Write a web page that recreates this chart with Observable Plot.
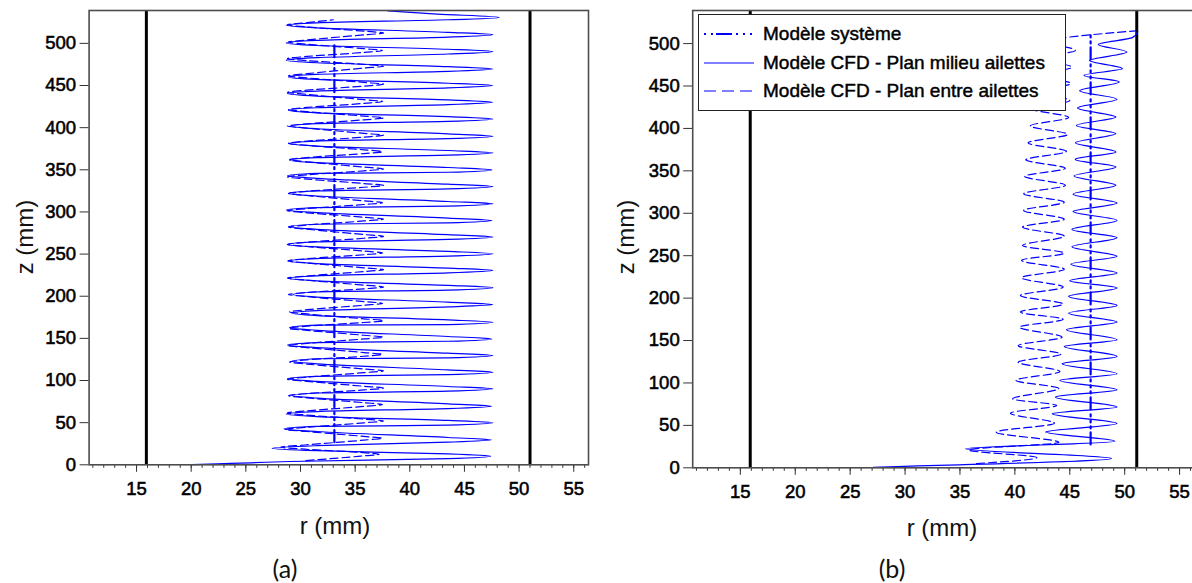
<!DOCTYPE html>
<html>
<head>
<meta charset="utf-8">
<script src="https://cdn.jsdelivr.net/npm/d3@7"></script>
<script src="https://cdn.jsdelivr.net/npm/@observablehq/plot@0.6"></script>
<style>
  html, body { margin: 0; padding: 0; background: #fff; overflow: hidden; }
  #page { position: relative; width: 1192px; height: 583px; overflow: hidden; background: #fff; }
  .panel { position: absolute; top: 0; }
  .panel svg text { stroke: #000; stroke-width: 0.55px; fill: #000; }
  .lbl { position: absolute; transform: translate(-50%, -50%); white-space: nowrap; color: #111;
         font-family: "Liberation Sans", Arial, sans-serif; font-size: 24px; line-height: 1; }
  .cap { font-family: Lato, "Open Sans", sans-serif; font-size: 25px; }
  .rot { transform: translate(-50%, -50%) rotate(-90deg); }
  #legend { position: absolute; left: 698px; top: 14px; width: 366px; height: 95px; background: #fff;
            border: 1.5px solid #222; font-family: "Liberation Sans", Arial, sans-serif; font-size: 19px; color: #000;
            -webkit-text-stroke: 0.45px #000; }
  #legend .row { position: absolute; left: 0; height: 24px; width: 100%; }
  #legend svg { position: absolute; left: 5px; top: 0; }
  #legend span { position: absolute; left: 64px; top: 1px; line-height: 22px; white-space: nowrap; }
</style>
</head>
<body>
<div id="page">
  <div id="panelA" class="panel" style="left:0px;width:596px;"></div>
  <div id="panelB" class="panel" style="left:596px;width:600px;"></div>
  <div class="lbl rot" style="left:25px;top:237px;">z (mm)</div>
  <div class="lbl rot" style="left:626px;top:237px;">z (mm)</div>
  <div class="lbl" style="left:335px;top:526px;">r (mm)</div>
  <div class="lbl" style="left:942px;top:528px;">r (mm)</div>
  <div class="lbl cap" style="left:285px;top:568px;">(a)</div>
  <div class="lbl cap" style="left:892px;top:568px;">(b)</div>
  <div id="legend">
    <div class="row" style="top:7px;">
      <svg width="52" height="24"><line x1="0" x2="50" y1="12" y2="12" stroke="#0000ff" stroke-width="2" stroke-dasharray="2,5,2,3,16,4,2,5,2,5,2"/></svg>
      <span>Modèle système</span>
    </div>
    <div class="row" style="top:36px;">
      <svg width="52" height="24"><line x1="0" x2="50" y1="12" y2="12" stroke="#0000ff" stroke-width="1.2"/></svg>
      <span>Modèle CFD - Plan milieu ailettes</span>
    </div>
    <div class="row" style="top:64px;">
      <svg width="52" height="24"><line x1="0" x2="50" y1="12" y2="12" stroke="#0000ff" stroke-width="1.2" stroke-dasharray="12,6"/></svg>
      <span>Modèle CFD - Plan entre ailettes</span>
    </div>
  </div>
</div>
<script>
// ---------- axes / scales ----------
const rDomain = [10.66, 56.35];
const zDomain = [0, 539];
const xMajorTicks = [15, 20, 25, 30, 35, 40, 45, 50, 55];
const xMinorTicks = [11, 12, 13, 14, 15, 16, 17, 18, 19, 20, 21, 22, 23, 24, 25, 26, 27, 28, 29, 30, 31, 32, 33, 34, 35, 36, 37, 38, 39, 40, 41, 42, 43, 44, 45, 46, 47, 48, 49, 50, 51, 52, 53, 54, 55, 56];
const zTicks = [0, 50, 100, 150, 200, 250, 300, 350, 400, 450, 500];

// ---------- walls (black vertical lines) ----------
const wallsA = [15.9, 51.0];
const wallsB = [15.9, 51.1];

// ---------- (a) Modèle système ----------
const sysA_r = [33.1, 33.1];
const sysA_z = [26.8, 497.6];

// ---------- (a) CFD plan milieu ailettes ----------
const milA_z = [0.3, 1.2, 2.4, 3.9, 7.4, 10.2, 13.0, 16.7, 19.7, 22.7, 26.8, 29.6, 32.4, 39.5, 42.5, 45.5, 47.0, 49.8, 52.6, 57.2, 60.2, 63.2, 66.7, 69.5, 72.3, 79.2, 82.2, 85.2, 87.3, 90.1, 92.9, 99.0, 102.0, 105.0, 107.0, 109.8, 112.6, 119.8, 122.8, 125.8, 126.8, 129.6, 132.4, 139.0, 142.0, 145.0, 146.6, 149.4, 152.2, 159.6, 162.6, 165.6, 166.3, 169.1, 171.9, 177.0, 180.0, 183.0, 187.3, 190.1, 192.9, 199.0, 202.0, 205.0, 207.3, 210.1, 212.9, 218.2, 221.2, 224.2, 227.8, 230.6, 233.4, 238.7, 241.7, 244.7, 247.6, 250.4, 253.2, 258.5, 261.5, 264.5, 267.4, 270.2, 273.0, 279.4, 282.4, 285.4, 287.1, 289.9, 292.7, 299.2, 302.2, 305.2, 306.8, 309.6, 312.4, 318.9, 321.9, 324.9, 327.3, 330.1, 332.9, 339.8, 342.8, 345.8, 347.1, 349.9, 352.7, 358.4, 361.4, 364.4, 367.3, 370.1, 372.9, 378.1, 381.1, 384.1, 387.0, 389.8, 392.6, 398.7, 401.7, 404.7, 407.5, 410.3, 413.1, 417.6, 420.6, 423.6, 427.3, 430.1, 432.9, 437.4, 440.4, 443.4, 447.1, 449.9, 452.7, 457.2, 460.2, 463.2, 466.8, 469.6, 472.4, 477.0, 480.0, 483.0, 487.4, 490.2, 493.0, 497.5, 500.5, 503.5, 507.5, 510.3, 513.1, 518.4, 521.4, 524.4, 528.0, 530.8, 534.8, 538.5];
const milA_r = [20.1, 22.4, 25.5, 29.0, 43.5, 47.4, 43.5, 31.5, 27.4, 31.5, 43.5, 47.5, 43.5, 31.5, 28.5, 31.5, 43.5, 47.6, 43.5, 31.5, 28.7, 31.5, 43.5, 47.5, 43.5, 31.5, 29.2, 31.5, 43.5, 47.6, 43.5, 31.5, 28.8, 31.5, 43.5, 47.6, 43.5, 31.5, 29.2, 31.5, 43.5, 47.6, 43.5, 31.5, 28.8, 31.5, 43.5, 47.5, 43.5, 31.5, 29.0, 31.5, 43.5, 47.6, 43.5, 31.5, 29.2, 31.5, 43.5, 47.6, 43.5, 31.5, 29.3, 31.5, 43.5, 47.6, 43.5, 31.5, 28.9, 31.5, 43.5, 47.6, 43.5, 31.5, 28.8, 31.5, 43.5, 47.6, 43.5, 31.5, 28.8, 31.5, 43.5, 47.6, 43.5, 31.5, 28.9, 31.5, 43.5, 47.5, 43.5, 31.5, 28.7, 31.5, 43.5, 47.6, 43.5, 31.5, 28.9, 31.5, 43.5, 47.6, 43.5, 31.5, 28.8, 31.5, 43.5, 47.5, 43.5, 31.5, 29.0, 31.5, 43.5, 47.6, 43.5, 31.5, 28.9, 31.5, 43.5, 47.6, 43.5, 31.5, 29.1, 31.5, 43.5, 47.6, 43.5, 31.5, 28.9, 31.5, 43.5, 47.6, 43.5, 31.5, 28.8, 31.5, 43.5, 47.6, 43.5, 31.5, 28.9, 31.5, 43.5, 47.6, 43.5, 31.5, 28.7, 31.5, 43.5, 47.6, 43.5, 31.5, 28.7, 31.5, 43.5, 47.6, 43.5, 31.5, 28.7, 31.5, 43.5, 48.2, 42.5, 38.0];

// ---------- (a) CFD plan entre ailettes ----------
const entA_z = [5.0, 10.3, 12.5, 14.7, 18.5, 21.0, 23.5, 29.3, 31.5, 33.7, 39.5, 42.0, 44.5, 49.8, 52.0, 54.2, 59.0, 61.5, 64.0, 69.3, 71.5, 73.7, 79.5, 82.0, 84.5, 88.8, 91.0, 93.2, 99.0, 101.5, 104.0, 109.3, 111.5, 113.7, 119.5, 122.0, 124.5, 128.8, 131.0, 133.2, 139.0, 141.5, 144.0, 149.3, 151.5, 153.7, 159.5, 162.0, 164.5, 168.8, 171.0, 173.2, 179.0, 181.5, 184.0, 189.3, 191.5, 193.7, 199.5, 202.0, 204.5, 208.8, 211.0, 213.2, 219.0, 221.5, 224.0, 229.3, 231.5, 233.7, 239.5, 242.0, 244.5, 249.2, 251.4, 253.6, 259.0, 261.5, 264.0, 268.8, 271.0, 273.2, 279.5, 282.0, 284.5, 289.3, 291.5, 293.7, 299.0, 301.5, 304.0, 308.8, 311.0, 313.2, 319.5, 322.0, 324.5, 329.3, 331.5, 333.7, 339.0, 341.5, 344.0, 348.8, 351.0, 353.2, 359.5, 362.0, 364.5, 369.3, 371.5, 373.7, 379.0, 381.5, 384.0, 388.8, 391.0, 393.2, 399.5, 402.0, 404.5, 409.3, 411.5, 413.7, 419.0, 421.5, 424.0, 428.8, 431.0, 433.2, 439.5, 442.0, 444.5, 449.3, 451.5, 453.7, 459.0, 461.5, 464.0, 470.7, 472.9, 475.1, 479.5, 482.0, 484.5, 489.3, 491.5, 493.7, 499.0, 501.5, 504.0, 510.1, 512.3, 514.5, 519.5, 522.0, 524.5, 528.0];
const entA_r = [30.5, 35.5, 37.2, 35.5, 30.4, 28.2, 30.4, 35.8, 37.5, 35.8, 30.6, 28.6, 30.6, 35.8, 37.6, 35.8, 30.6, 28.8, 30.6, 35.8, 37.5, 35.8, 30.6, 28.9, 30.6, 35.8, 37.6, 35.8, 30.6, 28.8, 30.6, 35.8, 37.6, 35.8, 30.6, 29.0, 30.6, 35.8, 37.5, 35.8, 30.6, 28.8, 30.6, 35.8, 37.6, 35.8, 30.6, 28.9, 30.6, 35.8, 37.6, 35.8, 30.6, 29.0, 30.6, 35.8, 37.5, 35.8, 30.6, 28.9, 30.6, 35.8, 37.6, 35.8, 30.6, 28.8, 30.6, 35.8, 37.6, 35.8, 30.6, 28.9, 30.6, 35.8, 37.5, 35.8, 30.6, 28.8, 30.6, 35.8, 37.6, 35.8, 30.6, 28.9, 30.6, 35.8, 37.6, 35.8, 30.6, 28.8, 30.6, 35.8, 37.5, 35.8, 30.6, 28.9, 30.6, 35.8, 37.6, 35.8, 30.6, 28.8, 30.6, 35.8, 37.6, 35.8, 30.6, 29.0, 30.6, 35.8, 37.5, 35.8, 30.6, 28.9, 30.6, 35.8, 37.6, 35.8, 30.6, 28.8, 30.6, 35.8, 37.6, 35.8, 30.6, 28.9, 30.6, 35.8, 37.5, 35.8, 30.6, 28.8, 30.6, 35.8, 37.6, 35.8, 30.6, 28.9, 30.6, 35.8, 37.6, 35.8, 30.6, 28.8, 30.6, 35.8, 37.5, 35.8, 30.6, 28.9, 30.6, 35.8, 37.6, 35.8, 30.6, 28.8, 30.6, 33.0];

// ---------- (b) Modèle système ----------
const sysB_r = [46.9, 46.9];
const sysB_z = [27.5, 512.9];

// ---------- (b) CFD plan milieu ailettes (turning points) ----------
const milB_z = [0.5, 1.5, 2.5, 3.5, 11.0, 22.4, 31.3, 42.1, 52.2, 63.7, 71.7, 83.3, 92.0, 103.0, 110.9, 122.6, 131.3, 143.0, 151.0, 162.7, 171.8, 182.3, 191.4, 202.0, 212.0, 220.5, 229.5, 240.0, 249.2, 260.5, 271.2, 281.0, 291.6, 302.0, 312.0, 322.5, 332.9, 344.0, 354.5, 363.5, 372.2, 383.0, 393.9, 403.5, 413.4, 424.0, 434.3, 444.5, 454.7, 462.5, 470.5, 480.0, 490.0, 499.0, 507.0, 514.0];
const milB_r = [27.1, 29.3, 32.1, 34.9, 48.8, 35.5, 49.1, 42.8, 49.3, 43.4, 49.3, 43.7, 49.3, 44.1, 49.3, 44.3, 49.3, 44.5, 49.3, 44.7, 49.3, 44.9, 49.3, 44.9, 49.3, 45.0, 49.3, 45.1, 49.3, 45.2, 49.3, 45.2, 49.3, 45.3, 49.3, 45.3, 49.2, 45.4, 49.2, 45.5, 49.2, 45.5, 49.2, 45.6, 49.2, 45.7, 49.3, 45.9, 49.5, 46.3, 49.8, 46.8, 50.2, 47.6, 50.7, 51.2];

// ---------- (b) CFD plan entre ailettes (turning points) ----------
const entB_z = [5.0, 12.0, 21.0, 30.0, 42.0, 52.5, 64.4, 73.5, 81.3, 93.5, 103.0, 113.5, 124.5, 134.0, 144.0, 154.0, 165.8, 175.0, 183.5, 193.0, 203.0, 213.0, 224.0, 234.0, 244.5, 253.0, 262.0, 273.0, 283.7, 293.0, 303.4, 313.0, 323.0, 333.0, 343.5, 353.0, 363.0, 373.0, 383.0, 393.0, 403.0, 413.0, 423.0, 433.0, 443.0, 453.0, 463.0, 472.0, 483.0, 492.0, 502.0, 515.0];
const entB_r = [36.5, 42.0, 35.8, 44.0, 38.3, 43.6, 39.6, 43.8, 39.8, 44.0, 40.1, 44.1, 40.3, 44.2, 40.3, 44.3, 40.4, 44.4, 40.5, 44.4, 40.5, 44.4, 40.6, 44.5, 40.6, 44.5, 40.7, 44.5, 40.7, 44.5, 40.8, 44.5, 40.8, 44.6, 40.9, 44.6, 41.0, 44.7, 41.2, 44.8, 41.4, 44.9, 41.6, 45.0, 41.8, 45.1, 42.0, 45.2, 42.3, 45.5, 43.0, 51.0];

const BLUE = "#0000ff";
const toRows = (rs, zs) => zs.map((z, i) => ({r: rs[i], z}));

function panel({walls, mil, ent, sys, width, marginLeft, marginRight, marginBottom}) {
  return Plot.plot({
    width, height: 583,
    marginLeft, marginRight, marginTop: 10, marginBottom,
    style: {fontFamily: "'Liberation Sans', Arial, sans-serif", fontSize: "18.5px", color: "#000", background: "transparent", overflow: "visible"},
    x: {domain: rDomain},
    y: {domain: zDomain},
    marks: [
      Plot.ruleX(walls, {stroke: "#000", strokeWidth: 3}),
      Plot.line(ent, {x: "r", y: "z", curve: "monotone-y", stroke: BLUE, strokeWidth: 1.2, strokeDasharray: "8,4"}),
      Plot.line(mil, {x: "r", y: "z", curve: "monotone-y", stroke: BLUE, strokeWidth: 1.2}),
      Plot.line(sys, {x: "r", y: "z", stroke: BLUE, strokeWidth: 2.2, strokeDasharray: "12,4,2,4,2,4,2,5"}),
      Plot.axisX({ticks: xMinorTicks, tickSize: 3.5, tickFormat: () => "", label: null, stroke: "#333"}),
      Plot.axisX({ticks: xMajorTicks, tickSize: 7.5, tickPadding: 10, label: null, stroke: "#333"}),
      Plot.axisY({ticks: zTicks, tickSize: 9, tickPadding: 4, label: null, stroke: "#333"}),
      Plot.frame({stroke: "#4d4d4d", strokeWidth: 1.6})
    ]
  });
}

document.getElementById("panelA").append(panel({
  walls: wallsA,
  mil: toRows(milA_r, milA_z),
  ent: toRows(entA_r, entA_z),
  sys: toRows(sysA_r, sysA_z),
  width: 596, marginLeft: 88.6, marginRight: 8, marginBottom: 118.7
}));
document.getElementById("panelB").append(panel({
  walls: wallsB,
  mil: toRows(milB_r, milB_z),
  ent: toRows(entB_r, entB_z),
  sys: toRows(sysB_r, sysB_z),
  width: 600, marginLeft: 96.2, marginRight: 2.1, marginBottom: 115.7
}));
</script>
</body>
</html>
